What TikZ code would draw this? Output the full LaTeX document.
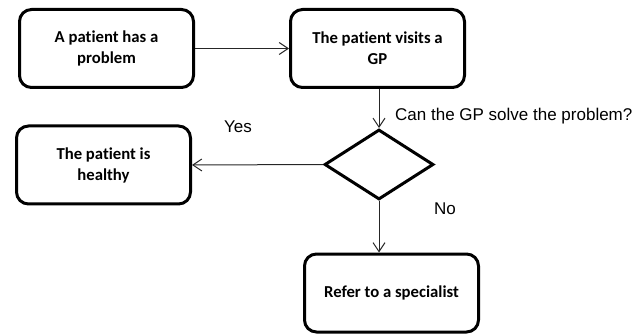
\documentclass[tikz,border=0pt]{standalone}
\usepackage{fontspec}
\setmainfont{Liberation Sans}
\newfontfamily\boxfont[Ligatures=NoCommon]{Carlito}
\usetikzlibrary{shapes.geometric,arrows.meta}
\begin{document}
\begin{tikzpicture}[x=1pt,y=-1pt,
  procbox/.style={draw=black,line width=3pt,rounded corners=12pt,minimum width=174pt,minimum height=78pt,inner sep=0pt,align=center,font=\boxfont\bfseries\fontsize{16.7}{21}\selectfont},
  decision/.style={draw=black,line width=3pt,diamond,minimum width=109pt,minimum height=70pt,inner sep=0pt},
  flow/.style={draw=black!85,line width=1pt,-{Straight Barb[length=9pt,width=12pt]}},
  lbl/.style={font=\fontsize{17}{20}\selectfont,inner sep=0pt}]
\useasboundingbox (0,0) rectangle (643,334);
\node[procbox] (b1) at (106.5,48.5) {A patient has a\\problem};
\node[procbox] (b2) at (377.5,48.5) {The patient visits a\\GP};
\node[procbox] (b3) at (103.5,165) {The patient is\\healthy};
\node[procbox] (b4) at (391.5,293) {Refer to a specialist};
\node[decision] (d) at (379,164.5) {};
\draw[flow] (b1.east) -- (b2.west);
\draw[flow] (b2.south -| d.north) -- (d.north);
\draw[flow] (d.west) -- (b3.east);
\draw[flow] (d.south) -- (d.south |- b4.north);
\node[lbl] (yes) at (238,127) {Yes};
\node[lbl] (no) at (445,209) {No};
\node[lbl,anchor=west] (q) at (395,116) {Can the GP solve the problem?};
\end{tikzpicture}
\end{document}
